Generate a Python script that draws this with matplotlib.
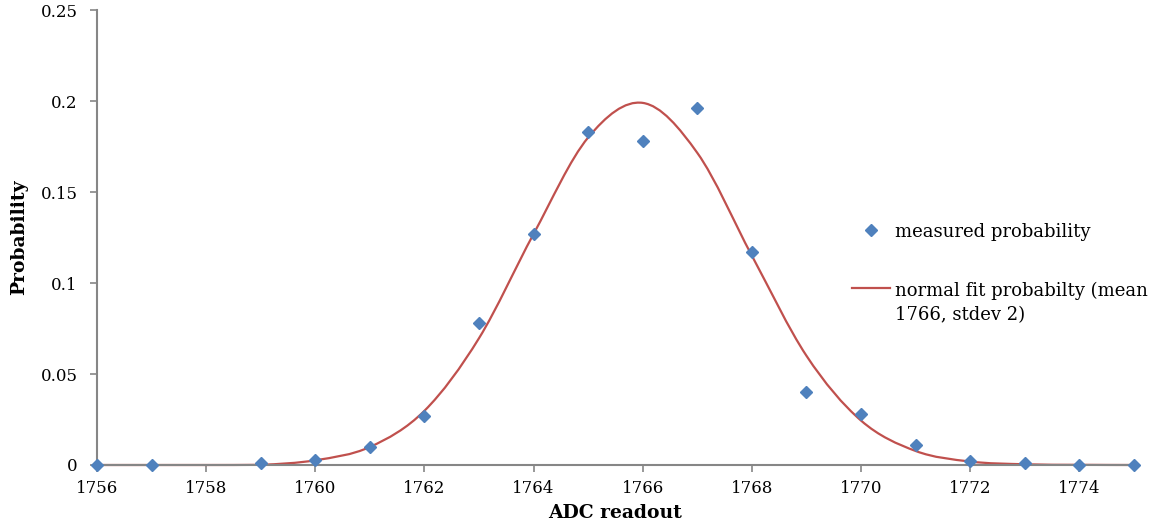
import matplotlib
matplotlib.use("Agg")
import matplotlib.pyplot as plt
from matplotlib.path import Path
from matplotlib.patches import PathPatch
from matplotlib.lines import Line2D

# measured data
meas_x = [1756, 1757, 1759, 1760, 1761, 1762, 1763, 1764, 1765, 1766,
          1767, 1768, 1769, 1770, 1771, 1772, 1773, 1774, 1775]
meas_y = [0.0, 0.0, 0.001, 0.003, 0.010, 0.027, 0.078, 0.127, 0.183, 0.178,
          0.196, 0.117, 0.040, 0.028, 0.011, 0.002, 0.001, 0.0, 0.0]

# normal fit values at each readout
fit_x = list(range(1756, 1776))
fit_y = [0.0, 0.0, 0.0, 0.0001, 0.0026, 0.0099, 0.0298, 0.0697, 0.127, 0.180,
         0.199, 0.1715, 0.115, 0.060, 0.0244, 0.0077, 0.0019, 0.0004, 0.0001, 0.0]

x_ticks = [1756, 1758, 1760, 1762, 1764, 1766, 1768, 1770, 1772, 1774]
y_ticks = [0, 0.05, 0.1, 0.15, 0.2, 0.25]
y_tick_labels = ["0", "0.05", "0.1", "0.15", "0.2", "0.25"]

BLUE = "#4F81BD"
RED = "#C0504D"
GREY = "#868686"
FONT = "DejaVu Serif"

plt.rcParams["font.family"] = FONT

fig = plt.figure(figsize=(11.53, 5.31), dpi=100)
ax = fig.add_axes([0.0841, 0.1243, 0.8994, 0.8567])

# smoothed line (Excel style: Catmull-Rom converted to cubic Bezier)
def smooth_path(xs, ys, t=1.0 / 6.0):
    verts = [(xs[0], ys[0])]
    codes = [Path.MOVETO]
    n = len(xs)
    for i in range(n - 1):
        x0, y0 = (xs[i - 1], ys[i - 1]) if i > 0 else (xs[i], ys[i])
        x1, y1 = xs[i], ys[i]
        x2, y2 = xs[i + 1], ys[i + 1]
        x3, y3 = (xs[i + 2], ys[i + 2]) if i + 2 < n else (xs[i + 1], ys[i + 1])
        c1 = (x1 + (x2 - x0) * t, max(0.0, y1 + (y2 - y0) * t))
        c2 = (x2 - (x3 - x1) * t, max(0.0, y2 - (y3 - y1) * t))
        verts += [c1, c2, (x2, y2)]
        codes += [Path.CURVE4] * 3
    return Path(verts, codes)

patch = PathPatch(smooth_path(fit_x, fit_y), facecolor="none", edgecolor=RED,
                  linewidth=1.6, zorder=2, clip_on=False)
ax.add_patch(patch)

ax.plot(meas_x, meas_y, linestyle="none", marker="D", markersize=6,
        color=BLUE, zorder=3, clip_on=False)

ax.set_xlim(1756, 1775)
ax.set_ylim(0, 0.25)
ax.set_xticks(x_ticks)
ax.set_yticks(y_ticks)
ax.set_yticklabels(y_tick_labels)

for s in ["top", "right"]:
    ax.spines[s].set_visible(False)
for s in ["left", "bottom"]:
    ax.spines[s].set_color(GREY)
    ax.spines[s].set_linewidth(1.5)
ax.tick_params(axis="both", colors=GREY, labelcolor="black", labelsize=12,
               length=5, width=1.2, direction="out")
ax.tick_params(axis="x", pad=6)
ax.tick_params(axis="y", pad=9)

ax.set_xlabel("ADC readout", fontsize=13.5, fontweight="bold", labelpad=5)
ax.set_ylabel("Probability", fontsize=13.5, fontweight="bold", labelpad=9)

handles = [
    Line2D([], [], linestyle="none", marker="D", markersize=6, color=BLUE),
    Line2D([], [], color=RED, linewidth=1.6),
]
labels = ["measured probability", "normal fit probabilty (mean\n1766, stdev 2)"]
leg = ax.legend(handles, labels, loc="upper left", bbox_to_anchor=(0.728, 0.533),
                frameon=False, fontsize=13, handlelength=2.1, handletextpad=0.3,
                labelspacing=2.3, borderaxespad=0, borderpad=0)
for t in leg.get_texts():
    t.set_linespacing(1.4)
# align the fit line with the first text line, as in the original legend
ln = leg.get_lines()[1]
ln.set_ydata([v + 11.5 for v in ln.get_ydata()])

fig.savefig("out.png", dpi=100)
